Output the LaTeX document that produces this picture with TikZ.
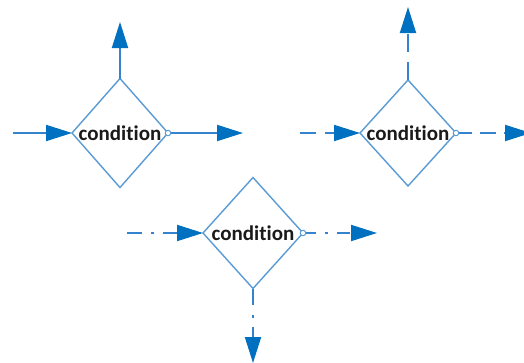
\documentclass[tikz,border=0pt]{standalone}
\usepackage{fontspec}
\setmainfont{Carlito}[Ligatures=NoCommon]
\usetikzlibrary{shapes.geometric,arrows.meta}
\definecolor{dblue}{HTML}{5B9BD5}
\definecolor{lblue}{HTML}{3583CC}
\definecolor{tblue}{HTML}{0070C0}
\definecolor{txt}{HTML}{1A1A1A}
\tikzset{
  dec/.style={shape=diamond, draw=dblue, line width=1.4pt, inner sep=0pt, outer sep=0pt, fill=white},
  lbl/.style={text=txt, font=\fontsize{21}{24}\selectfont\bfseries, inner sep=0pt},
  conn/.style={draw=lblue, line width=2pt, -{Triangle[length=26pt,width=16pt,color=tblue]}},
  dashy/.style={dash pattern=on 16pt off 9pt},
  dashdot/.style={dash pattern=on 15pt off 9pt on 3pt off 9pt},
  port/.style={circle, draw=dblue, fill=white, line width=1pt, minimum size=5.5pt, inner sep=0pt},
}
\begin{document}
\begin{tikzpicture}[x=1pt,y=-1pt]
\clip (0,0) rectangle (524,362);
\useasboundingbox (0,0) rectangle (524,362);
% diamonds
\node[dec, minimum width=96pt, minimum height=109pt] (d1) at (120,133) {};
\node[dec, minimum width=96pt, minimum height=106pt] (d2) at (408,133) {};
\node[dec, minimum width=100pt, minimum height=111pt] (d3) at (253,233) {};
% free ends
\coordinate (a1) at (13,133);
\coordinate (u1) at (120,22);
\coordinate (o1) at (243,133);
\coordinate (a2) at (300,133);
\coordinate (u2) at (408,7);
\coordinate (o2) at (531,133);
\coordinate (a3) at (127,233);
\coordinate (o3) at (377,233);
\coordinate (w3) at (253,363);
% connectors
\draw[conn] (a1) -- (d1.west);
\draw[conn] (d1.north) -- (u1);
\draw[conn] (d1.east) -- (o1);
\draw[conn,dashy] (a2) -- (d2.west);
\draw[conn,dash pattern=on 18pt off 10pt] (d2.north) -- (u2);
\draw[conn,dash pattern=on 16pt off 8pt] (d2.east) -- (o2);
\draw[conn,dashdot] (a3) -- (d3.west);
\draw[conn,dash pattern=on 13pt off 9pt on 3pt off 9pt] (d3.east) -- (o3);
\draw[conn,dash pattern=on 16pt off 10pt on 3pt off 9pt] (d3.south) -- (w3);
% output ports
\node[port] (p1) at (d1.east) {};
\node[port] (p2) at (d2.east) {};
\node[port] (p3) at (d3.east) {};
% labels
\node[lbl] (t1) at (d1.center) {condition};
\node[lbl] (t2) at (d2.center) {condition};
\node[lbl] (t3) at (d3.center) {condition};
\end{tikzpicture}
\end{document}
